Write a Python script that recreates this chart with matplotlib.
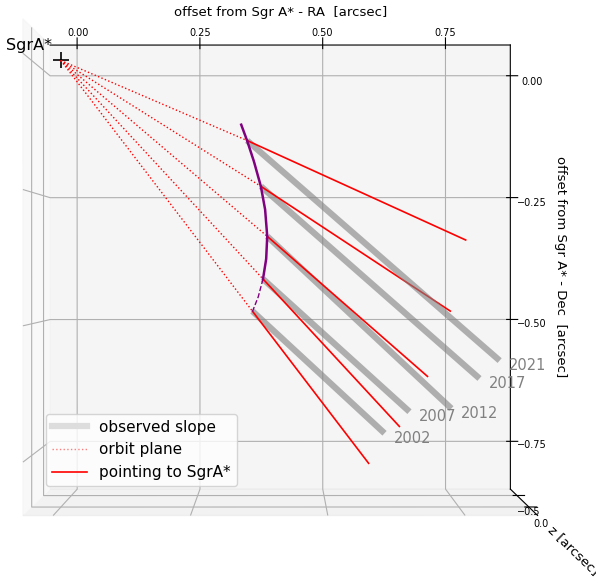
import numpy as np
import matplotlib
matplotlib.use("Agg")
import matplotlib.pyplot as plt
from matplotlib.lines import Line2D

# star positions (RA, Dec offsets in arcsec) per epoch
years = ["2002", "2007", "2012", "2017", "2021"]
star_x = [0.361, 0.381, 0.389, 0.377, 0.351]
star_y = [-0.476, -0.415, -0.334, -0.239, -0.152]

# far ends of the observed slope segments
slope_end_x = [0.610, 0.657, 0.736, 0.789, 0.827]
slope_end_y = [-0.708, -0.667, -0.661, -0.604, -0.570]

# far ends of the segments pointing away from SgrA*
point_end_x = [0.580, 0.638, 0.691, 0.734, 0.763]
point_end_y = [-0.765, -0.695, -0.600, -0.476, -0.341]

# projected orbit arc (solid part in front, dashed part behind)
orbit_front_x = [0.340, 0.351, 0.364, 0.377, 0.385, 0.389, 0.387, 0.381]
orbit_front_y = [-0.122, -0.152, -0.192, -0.239, -0.283, -0.334, -0.377, -0.415]
orbit_back_x = [0.381, 0.372, 0.361]
orbit_back_y = [-0.415, -0.449, -0.477]

sgra = (0.0, 0.0, 0.0)

fig = plt.figure(figsize=(5.96, 5.82), dpi=100)
ax = fig.add_axes([-0.043, 0.0275, 1.0, 1.0], projection="3d")
ax.view_init(elev=90.01, azim=-90.01)
ax.set_box_aspect((4.145, 4, 3), zoom=1.27)

ax.plot([sgra[0]], [sgra[1]], [sgra[2]], marker="+", color="k", ms=12, mew=1.2)
ax.text(-0.016, 0.028, 0, "SgrA*", fontsize=11.5, ha="right", va="center")

for i in range(len(years)):
    ax.plot([sgra[0], star_x[i]], [sgra[1], star_y[i]], [0, 0],
            color="red", ls=":", lw=1)
    ax.plot([star_x[i], slope_end_x[i]], [star_y[i], slope_end_y[i]], [0, 0],
            color="gray", alpha=0.6, lw=4.5, solid_capstyle="butt")
    ax.plot([star_x[i], point_end_x[i]], [star_y[i], point_end_y[i]], [0, 0],
            color="red", lw=1.2)
    ax.text(slope_end_x[i] + 0.017, slope_end_y[i] - 0.01, 0, years[i],
            color="gray", fontsize=10.5, va="center", ha="left")

ax.plot(orbit_front_x, orbit_front_y, np.zeros(len(orbit_front_x)),
        color="purple", lw=1.8)
ax.plot(orbit_back_x, orbit_back_y, np.zeros(len(orbit_back_x)),
        color="purple", lw=1.0, ls="--")

ax.set_xlim(-0.055, 0.882)
ax.set_ylim(-0.848, 0.063)
ax.set_zlim(-0.80, 0.34)
ax.set_xticks([0.0, 0.25, 0.5, 0.75])
ax.set_yticks([0.0, -0.25, -0.5, -0.75])
ax.set_zticks([-0.5, 0.0])
ax.tick_params(labelsize=7)
ax.xaxis.set_tick_params(pad=1)
ax.yaxis.set_tick_params(pad=3)
ax.zaxis.set_tick_params(pad=-2.5)
ax.set_xlabel("offset from Sgr A* - RA  [arcsec]", fontsize=9.5, labelpad=-4)
ax.set_ylabel("offset from Sgr A* - Dec  [arcsec]", fontsize=9.5, labelpad=4.5)
ax.set_zlabel("z [arcsec]", fontsize=9.5, labelpad=1.5)

handles = [
    Line2D([], [], color="#dddddd", lw=4.5),
    Line2D([], [], color="red", ls=":", lw=1, alpha=0.5),
    Line2D([], [], color="red", lw=1.2),
]
ax.legend(handles, ["observed slope", "orbit plane", "pointing to SgrA*"],
          loc="upper left", bbox_to_anchor=(38 / 596, 1 - 406 / 582),
          bbox_transform=fig.transFigure, fontsize=11, handlelength=2.3)

fig.savefig("out.png", dpi=100)
